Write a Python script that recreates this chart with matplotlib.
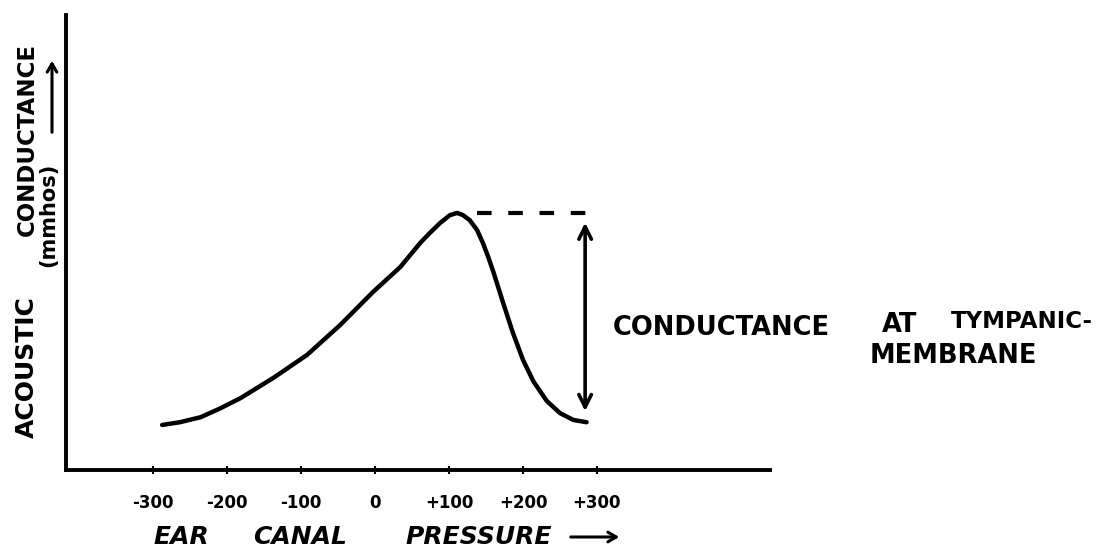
import matplotlib
matplotlib.use("Agg")
import matplotlib.pyplot as plt

# Data
pressure = [-288, -264, -236, -210, -182, -138, -92, -47, -3, 34, 61, 74, 88,
            101, 111, 119, 128, 138, 146, 153, 160, 173, 186, 200, 214, 232,
            250, 268, 286]
conductance = [0.99, 1.05, 1.16, 1.35, 1.58, 2.02, 2.53, 3.19, 3.91, 4.46,
               4.99, 5.21, 5.43, 5.60, 5.65, 5.60, 5.49, 5.27, 4.98, 4.68,
               4.35, 3.68, 3.03, 2.42, 1.95, 1.52, 1.25, 1.10, 1.05]
tick_values = [-300, -200, -100, 0, 100, 200, 300]
tick_labels = ["-300", "-200", "-100", "0", "+100", "+200", "+300"]

W, H = 1105, 552
fig = plt.figure(figsize=(W / 100, H / 100), dpi=100)
ax = fig.add_axes([66 / W, 82 / H, 704 / W, 455 / H])

ax.plot(pressure, conductance, color="black", lw=3.2,
        solid_capstyle="round", solid_joinstyle="round")

# peak and tail
i_peak = max(range(len(conductance)), key=lambda i: conductance[i])
peak_x, peak_y = pressure[i_peak], conductance[i_peak]
tail_x, tail_y = pressure[-1], conductance[-1]

ax.plot([peak_x + 27, tail_x + 8], [peak_y, peak_y], color="black", lw=3,
        dashes=(3.5, 4))
ax.annotate("", xy=(tail_x - 2, peak_y), xytext=(tail_x - 2, tail_y),
            arrowprops=dict(arrowstyle="<->,head_length=0.9,head_width=0.45",
                            lw=2.6, color="black", shrinkA=8, shrinkB=7))

ax.set_xlim(-418, 534)
ax.set_ylim(0, 10)

for s in ["top", "right"]:
    ax.spines[s].set_visible(False)
for s in ["left", "bottom"]:
    ax.spines[s].set_linewidth(2.8)

ax.set_yticks([])
ax.set_xticks(tick_values)
ax.set_xticklabels(tick_labels, fontsize=12, fontweight="bold")
ax.tick_params(axis="x", direction="inout", length=6, width=1.5, pad=14)

# x-axis title (hand lettering)
xl = dict(fontsize=18, fontweight="bold", style="italic", ha="left",
          va="center")
fig.text(153 / W, 1 - 537 / H, "EAR", **xl)
fig.text(253 / W, 1 - 537 / H, "CANAL", **xl)
fig.text(405 / W, 1 - 537 / H, "PRESSURE", **xl)
ax.annotate("", xy=(622, H - 537), xytext=(568, H - 537),
            xycoords="figure pixels", textcoords="figure pixels",
            arrowprops=dict(arrowstyle="->,head_length=0.6,head_width=0.35",
                            lw=2.2, color="black"))

# y-axis title
fig.text(27 / W, 1 - 367 / H, "ACOUSTIC", fontsize=18, fontweight="bold",
         rotation=90, ha="center", va="center")
fig.text(27 / W, 1 - 140 / H, "CONDUCTANCE", fontsize=16.5, fontweight="bold",
         rotation=90, ha="center", va="center")
fig.text(48 / W, 1 - 215 / H, "(mmhos)", fontsize=15, fontweight="bold",
         rotation=90, ha="center", va="center")
ax.annotate("", xy=(52, H - 58), xytext=(52, H - 135),
            xycoords="figure pixels", textcoords="figure pixels",
            arrowprops=dict(arrowstyle="->,head_length=0.6,head_width=0.35",
                            lw=2.2, color="black"))

# right annotation
rt = dict(fontweight="bold", ha="left", va="center")
fig.text(613 / W, 1 - 328 / H, "CONDUCTANCE", fontsize=18.5, **rt)
fig.text(882 / W, 1 - 325 / H, "AT", fontsize=18.5, **rt)
fig.text(951 / W, 1 - 322 / H, "TYMPANIC-", fontsize=16.5, **rt)
fig.text(870 / W, 1 - 356 / H, "MEMBRANE", fontsize=18.5, **rt)

fig.savefig("out.png", dpi=100, facecolor="white")
